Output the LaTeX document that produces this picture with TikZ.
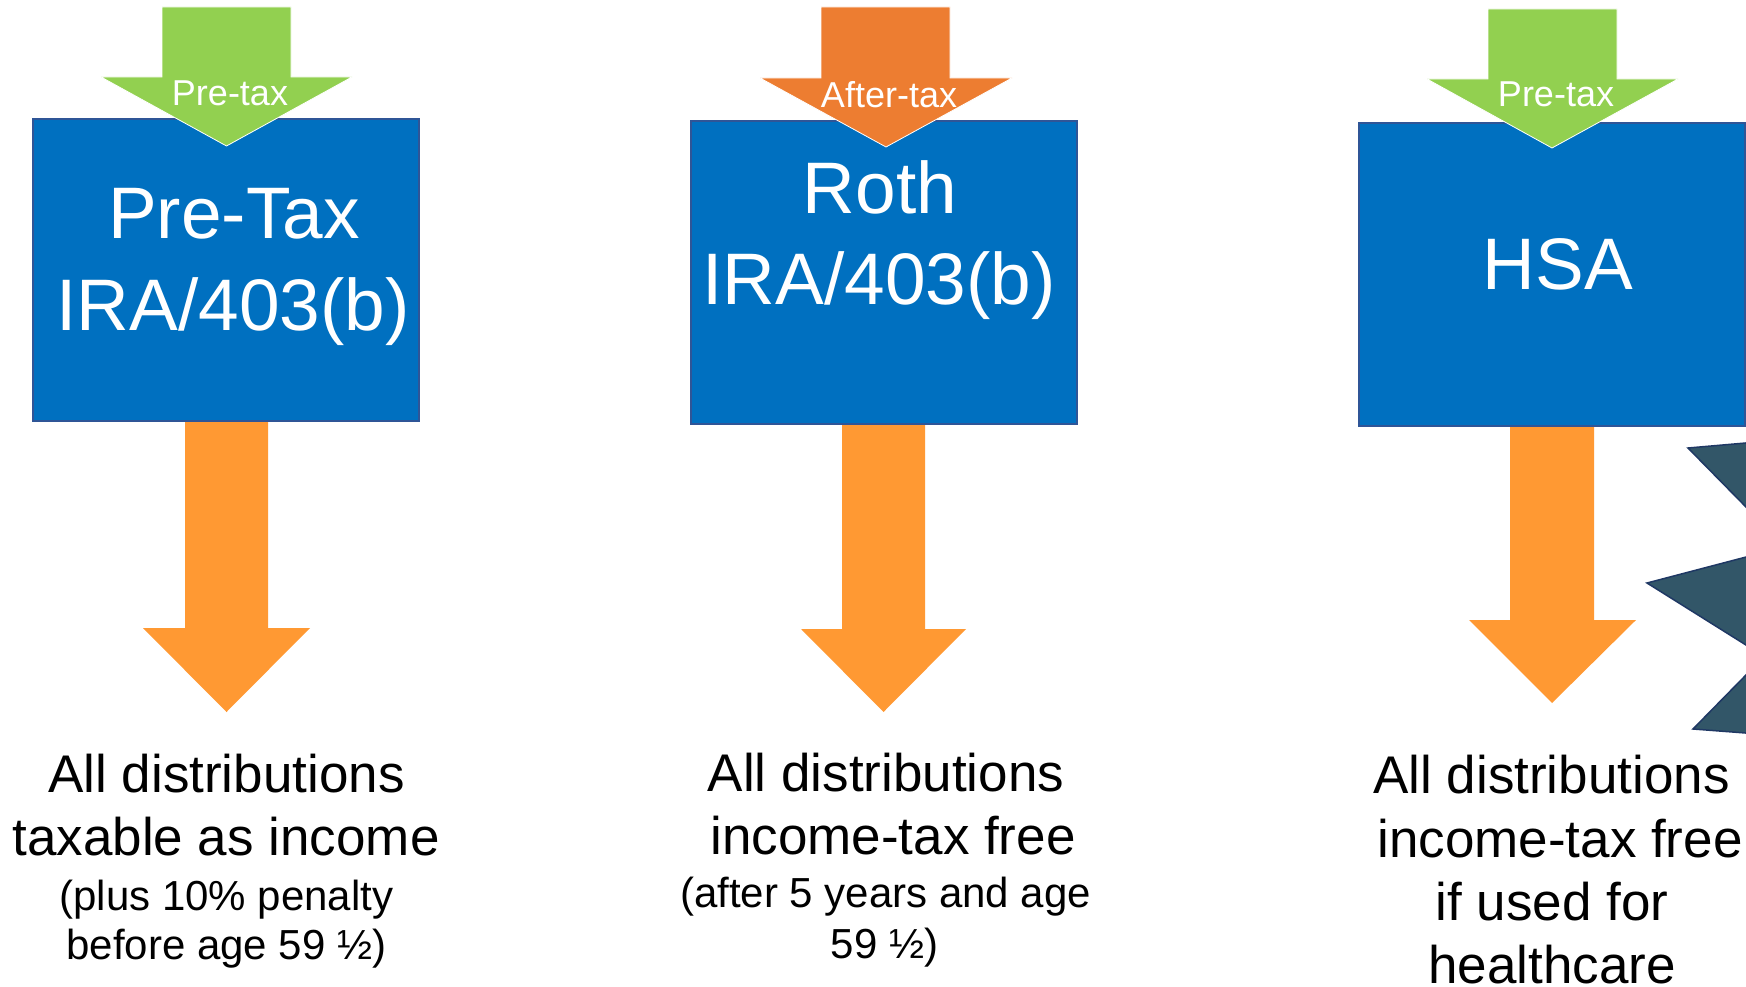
\documentclass[tikz,border=0pt]{standalone}
\usepackage{fontspec}
\setmainfont{Liberation Sans}
\definecolor{boxblue}{HTML}{0070C0}
\definecolor{boxedge}{HTML}{2F5597}
\definecolor{ingreen}{HTML}{92D050}
\definecolor{inorange}{HTML}{ED7D31}
\definecolor{outorange}{HTML}{FF9933}
\definecolor{starfill}{HTML}{325668}
\definecolor{staredge}{HTML}{1F3864}
\begin{document}
\begin{tikzpicture}[x=1pt,y=-1pt,
  acct/.style={fill=boxblue, draw=boxedge, line width=2pt, minimum width=386pt, minimum height=302pt, inner sep=0pt},
  boxtxt/.style={text=white, font=\fontsize{73}{90}\selectfont, anchor=base, inner sep=0pt},
  tagtxt/.style={text=white, font=\fontsize{36}{40}\selectfont, anchor=base, inner sep=0pt},
  bigtxt/.style={font=\fontsize{53}{63}\selectfont, anchor=base, inner sep=0pt},
  smalltxt/.style={font=\fontsize{42}{50}\selectfont, anchor=base, inner sep=0pt},
  inarrow/.style={draw=white, line width=0.8pt, line join=miter},
  outarrow/.style={fill=outorange}]

\useasboundingbox (0,0) rectangle (1746,987);
\fill[white] (0,0) rectangle (1746,987);

% ---------- Panel 1 : Pre-Tax ----------
\fill[outarrow] (185,421) -- (268,421) -- (268,628) -- (310,628) -- (226.5,712) -- (143,628) -- (185,628) -- cycle;
\node[acct] (b1) at (226,270) {};
\filldraw[inarrow, fill=ingreen] (162,7) -- (291,7) -- (291,77) -- (352,77) -- (226.5,146) -- (101,77) -- (162,77) -- cycle;
\node[tagtxt] (g1) at (230,106) {Pre-tax};
\node[boxtxt] (b1a) at (234,239) {Pre-Tax};
\node[boxtxt] (b1b) at (233,330) {IRA/403(b)};
\node[bigtxt] (t1a) at (226.5,792) {All distributions};
\node[bigtxt] (t1b) at (226,855) {taxable as income};
\node[smalltxt] (t1c) at (226.5,910) {(plus 10\% penalty};
\node[smalltxt] (t1d) at (226.5,959) {before age 59 ½)};

% ---------- Panel 2 : Roth ----------
\fill[outarrow] (842,423) -- (925,423) -- (925,629) -- (966,629) -- (883.5,712) -- (801,629) -- (842,629) -- cycle;
\node[acct] (b2) at (883.5,272.5) {};
\filldraw[inarrow, fill=inorange] (821,7) -- (950,7) -- (950,78) -- (1012,78) -- (886,147) -- (760,78) -- (821,78) -- cycle;
\node[tagtxt] (g2) at (889,108) {After-tax};
\node[boxtxt] (b2a) at (880,214) {Roth};
\node[boxtxt] (b2b) at (879,304) {IRA/403(b)};
\node[bigtxt] (t2a) at (886,791) {All distributions};
\node[bigtxt] (t2b) at (893,854) {income-tax free};
\node[smalltxt] (t2c) at (885.5,907) {(after 5 years and age};
\node[smalltxt] (t2d) at (884.5,958) {59 ½)};

% ---------- Panel 3 : HSA ----------
\fill[outarrow] (1510,425) -- (1594,425) -- (1594,620) -- (1636,620) -- (1552,703) -- (1469,620) -- (1510,620) -- cycle;
\node[acct] (b3) at (1552,274.5) {};
\filldraw[inarrow, fill=ingreen] (1488,9) -- (1617,9) -- (1617,79) -- (1678,79) -- (1552,148) -- (1427,79) -- (1488,79) -- cycle;
\node[tagtxt] (g3) at (1556,107) {Pre-tax};
\node[boxtxt] (b3a) at (1558,289) {HSA};
\node[bigtxt] (t3a) at (1551.5,793) {All distributions};
\node[bigtxt] (t3b) at (1560,857) {income-tax free};
\node[bigtxt] (t3c) at (1552,920) {if used for};
\node[bigtxt] (t3d) at (1552,983) {healthcare};

% ---------- star burst at right edge ----------
\filldraw[fill=starfill, draw=staredge, line width=1.5pt, line join=miter]
  (1756,442.1) -- (1688,448) -- (1756,517.2) -- (1756,554.4) -- (1647,583) -- (1756,651.3)
  -- (1756,664.8) -- (1693,729) -- (1756,733.8) -- cycle;
\end{tikzpicture}
\end{document}
